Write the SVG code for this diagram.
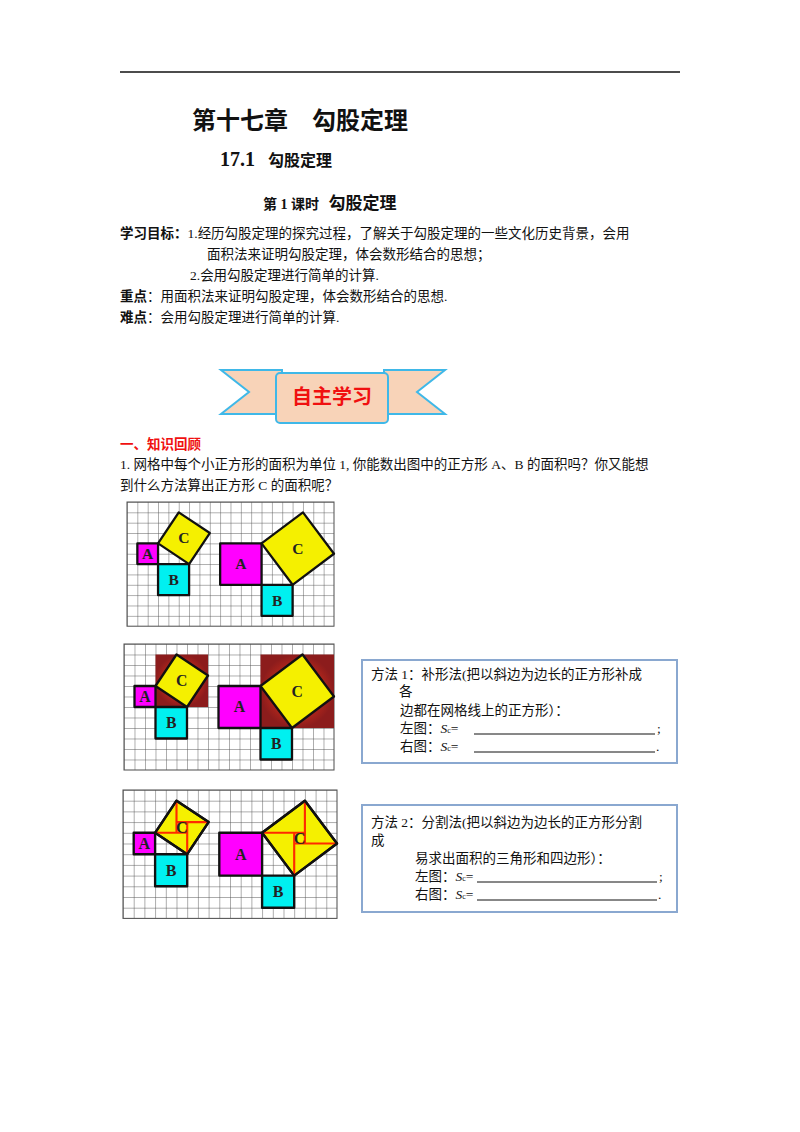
<svg xmlns="http://www.w3.org/2000/svg" width="800" height="1132" viewBox="0 0 800 1132">
<style>
.t{font-family:"Liberation Serif","Noto Sans CJK SC",serif;font-size:13.5px;fill:#111}
.b{font-weight:bold}
.g{fill:url(#gp);stroke:#555;stroke-width:0.1}
.sq{stroke:#111;stroke-width:0.22;stroke-linejoin:round}
.A{fill:#ff00ff}.B{fill:#00f0f0}.C{fill:#f5f000}
.lb{font-family:"Liberation Serif",serif;font-weight:bold;font-size:1.5px;fill:#222;text-anchor:middle}
.rl{stroke:#ff2a00;stroke-width:0.2;fill:none}
.box{fill:#fff;stroke:#8aa8d0;stroke-width:2}
</style>
<defs>
<pattern id="gp" patternUnits="userSpaceOnUse" width="1" height="1"><path d="M0 0H1M0 0V1" stroke="#555" stroke-width="0.09" fill="none"/></pattern>
<radialGradient id="rg"><stop offset="0" stop-color="#ff3b1a"/><stop offset="1" stop-color="#8c1c1c"/></radialGradient>
</defs>
<rect width="800" height="1132" fill="#fff"/>
<line x1="120" y1="72" x2="680" y2="72" stroke="#111" stroke-width="1.3"/>
<text class="t b" x="192" y="129" font-size="24" style="font-size:24px">第十七章　勾股定理</text>
<text class="t b" x="220" y="166" style="font-size:20px">17.1 <tspan style="font-size:16px" dx="8">勾股定理</tspan></text>
<text class="t b" x="263" y="209" style="font-size:14px">第 1 课时 <tspan style="font-size:17px" dx="6">勾股定理</tspan></text>
<text class="t" x="120" y="238"><tspan class="b">学习目标：</tspan>1.经历勾股定理的探究过程，了解关于勾股定理的一些文化历史背景，会用</text>
<text class="t" x="207" y="259">面积法来证明勾股定理，体会数形结合的思想；</text>
<text class="t" x="190" y="280">2.会用勾股定理进行简单的计算.</text>
<text class="t" x="120" y="301"><tspan class="b">重点</tspan>：用面积法来证明勾股定理，体会数形结合的思想.</text>
<text class="t" x="120" y="322"><tspan class="b">难点</tspan>：会用勾股定理进行简单的计算.</text>
<g id="banner">
<polygon points="221,370 282,370 282,414 221,414 249,392" fill="#f8d3b8" stroke="#3fb8e8" stroke-width="2"/>
<polygon points="445,370 384,370 384,414 445,414 417,392" fill="#f8d3b8" stroke="#3fb8e8" stroke-width="2"/>
<rect x="276" y="373" width="112" height="50" rx="4" fill="#f8d3b8" stroke="#3fb8e8" stroke-width="2"/>
<text x="332" y="404" text-anchor="middle" style="font-family:'Noto Sans CJK SC',sans-serif;font-weight:bold;font-size:20px;fill:#f01010">自主学习</text>
</g>
<text class="t b" x="120" y="449" style="fill:#f01010">一、知识回顾</text>
<text class="t" x="120" y="469">1. 网格中每个小正方形的面积为单位 1, 你能数出图中的正方形 A、B  的面积吗？你又能想</text>
<text class="t" x="120" y="490">到什么方法算出正方形 C 的面积呢？</text>
<g id="fig1" transform="translate(127,502) scale(10.35)">
<rect class="g" width="20" height="12"/>
<rect class="sq A" x="1" y="4" width="2" height="2"/><rect class="sq B" x="3" y="6" width="3" height="3"/>
<polygon class="sq C" points="3,4 5,1 8,3 6,6"/>
<rect class="sq A" x="9" y="4" width="4" height="4"/><rect class="sq B" x="13" y="8" width="3" height="3"/>
<polygon class="sq C" points="13,4 17,1 20,5 16,8"/>
<text class="lb" x="2" y="5.5">A</text><text class="lb" x="4.5" y="8">B</text><text class="lb" x="5.5" y="4">C</text>
<text class="lb" x="11" y="6.5">A</text><text class="lb" x="14.5" y="10">B</text><text class="lb" x="16.5" y="5">C</text>
</g>
<g id="fig2" transform="translate(124,644) scale(10.5)">
<rect class="g" width="20" height="12"/>
<rect x="3" y="1" width="5" height="5" fill="url(#rg)"/><rect x="13" y="1" width="7" height="7" fill="url(#rg)"/>
<rect class="sq A" x="1" y="4" width="2" height="2"/><rect class="sq B" x="3" y="6" width="3" height="3"/>
<polygon class="sq C" points="3,4 5,1 8,3 6,6"/>
<rect class="sq A" x="9" y="4" width="4" height="4"/><rect class="sq B" x="13" y="8" width="3" height="3"/>
<polygon class="sq C" points="13,4 17,1 20,5 16,8"/>
<text class="lb" x="2" y="5.5">A</text><text class="lb" x="4.5" y="8">B</text><text class="lb" x="5.5" y="4">C</text>
<text class="lb" x="11" y="6.5">A</text><text class="lb" x="14.5" y="10">B</text><text class="lb" x="16.5" y="5">C</text>
</g>
<g id="fig3" transform="translate(123,790) scale(10.7)">
<rect class="g" width="20" height="12"/>
<rect class="sq A" x="1" y="4" width="2" height="2"/><rect class="sq B" x="3" y="6" width="3" height="3"/>
<polygon class="sq C" points="3,4 5,1 8,3 6,6"/>
<rect class="sq A" x="9" y="4" width="4" height="4"/><rect class="sq B" x="13" y="8" width="3" height="3"/>
<polygon class="sq C" points="13,4 17,1 20,5 16,8"/>
<path class="rl" d="M5,1V4M8,3H5M6,6V3M3,4H6M13,4H17M17,1V5M20,5H16M16,8V4"/>
<polygon class="sq" fill="none" points="3,4 5,1 8,3 6,6"/><polygon class="sq" fill="none" points="13,4 17,1 20,5 16,8"/>
<text class="lb" x="2" y="5.5">A</text><text class="lb" x="4.5" y="8">B</text><text class="lb" x="5.5" y="4">C</text>
<text class="lb" x="11" y="6.5">A</text><text class="lb" x="14.5" y="10">B</text><text class="lb" x="16.5" y="5">C</text>
</g>
<g id="box1">
<rect class="box" x="362" y="660" width="315" height="103"/>
<text class="t" x="371" y="679">方法 1：补形法(把以斜边为边长的正方形补成</text>
<text class="t" x="399" y="696">各</text>
<text class="t" x="400" y="715">边都在网格线上的正方形）：</text>
<text class="t" x="400" y="733">左图：<tspan font-style="italic">S</tspan><tspan font-size="8">c</tspan>=</text>
<line x1="474" y1="734" x2="655" y2="734" stroke="#111"/><text class="t" x="657" y="733">;</text>
<text class="t" x="400" y="751">右图：<tspan font-style="italic">S</tspan><tspan font-size="8">c</tspan>=</text>
<line x1="474" y1="752" x2="655" y2="752" stroke="#111"/><text class="t" x="656" y="751">.</text>
</g>
<g id="box2">
<rect class="box" x="362" y="805" width="315" height="107"/>
<text class="t" x="371" y="827">方法 2：分割法(把以斜边为边长的正方形分割</text>
<text class="t" x="371" y="845">成</text>
<text class="t" x="415" y="863">易求出面积的三角形和四边形）：</text>
<text class="t" x="415" y="881">左图：<tspan font-style="italic">S</tspan><tspan font-size="8">c</tspan>=</text>
<line x1="477" y1="882" x2="657" y2="882" stroke="#111"/><text class="t" x="659" y="881">;</text>
<text class="t" x="415" y="899">右图：<tspan font-style="italic">S</tspan><tspan font-size="8">c</tspan>=</text>
<line x1="477" y1="900" x2="657" y2="900" stroke="#111"/><text class="t" x="658" y="899">.</text>
</g>
</svg>
